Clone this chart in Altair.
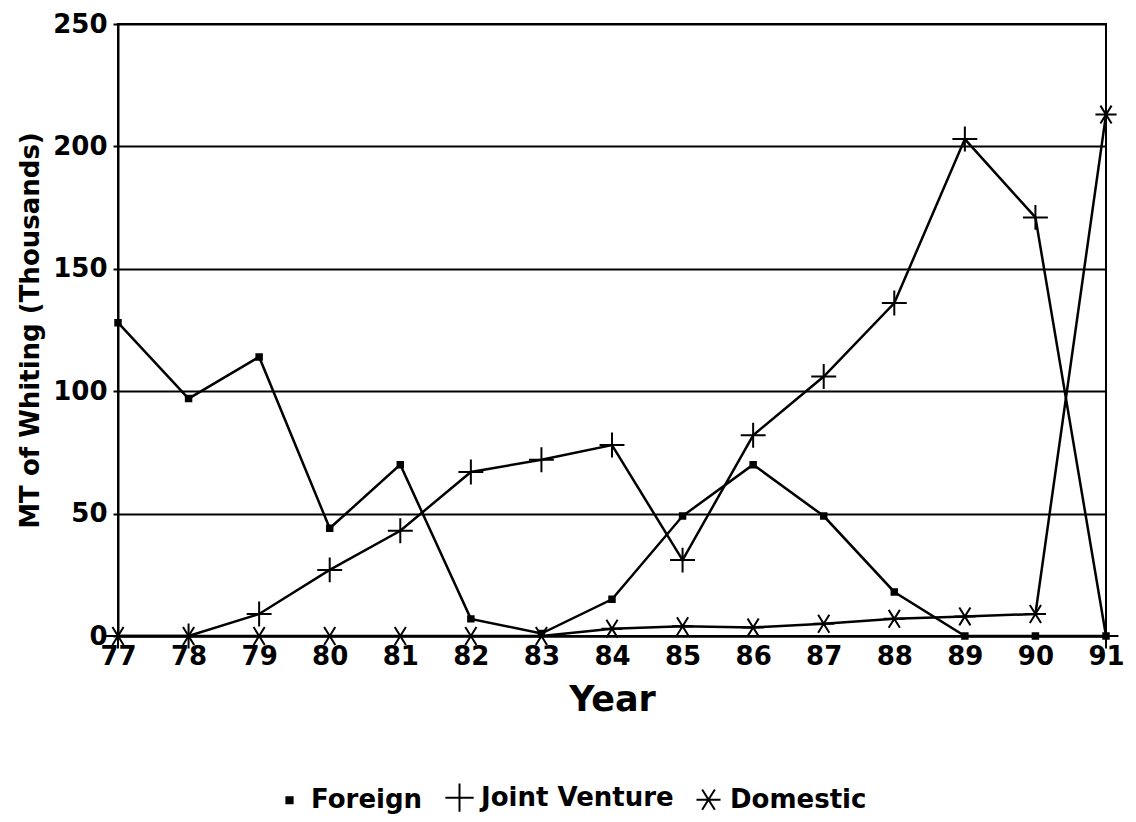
import altair as alt
import pandas as pd

years = [77, 78, 79, 80, 81, 82, 83, 84, 85, 86, 87, 88, 89, 90, 91]
foreign = [128, 97, 114, 44, 70, 7, 1, 15, 49, 70, 49, 18, 0, 0, 0]
joint_venture = [0, 0, 9, 27, 43, 67, 72, 78, 31, 82, 106, 136, 203, 171, 0]
domestic = [0, 0, 0, 0, 0, 0, 0, 3, 4, 3.5, 5, 7, 8, 9, 213]
series_names = ["Foreign", "Joint Venture", "Domestic"]
y_ticks = [0, 50, 100, 150, 200, 250]

rows = []
for name, vals in zip(series_names, [foreign, joint_venture, domestic]):
    for yr, v in zip(years, vals):
        rows.append({"Year": yr, "Value": v, "Series": name})
df = pd.DataFrame(rows)

square = "M-0.22,-0.22L0.22,-0.22L0.22,0.22L-0.22,0.22ZM-0.22,-0.07L0.22,-0.07M-0.22,0.07L0.22,0.07"
plus = "M-1,0L1,0M0,-1L0,1"
aster = "M-0.85,0L0.85,0M-0.45,-0.72L0.45,0.72M-0.45,0.72L0.45,-0.72"

FONT = "DejaVu Sans"

x = alt.X("Year:Q",
          scale=alt.Scale(domain=[77, 91], nice=False, zero=False),
          axis=alt.Axis(values=years, format="d", title="Year", grid=False,
                        ticks=False, labelPadding=7, titlePadding=13,
                        labelFlush=False, labelOverlap=False))
y = alt.Y("Value:Q",
          scale=alt.Scale(domain=[0, 250], nice=False),
          axis=alt.Axis(values=y_ticks, title="MT of Whiting (Thousands)",
                        grid=True, tickSize=5, labelPadding=6, titlePadding=9,
                        labelFlush=False))

lines = alt.Chart(df).mark_line(color="black", strokeWidth=2.5).encode(
    x=x, y=y, detail="Series:N", order="Year:Q")

points = alt.Chart(df).mark_point(filled=False, color="black", strokeWidth=2,
                                  opacity=1, size=620).encode(
    x=x, y=y,
    shape=alt.Shape("Series:N",
                    scale=alt.Scale(domain=series_names, range=[square, plus, aster]),
                    legend=alt.Legend(title=None, orient="none", direction="horizontal",
                                      legendX=156, legendY=758, symbolSize=800,
                                      symbolStrokeWidth=2, symbolStrokeColor="black",
                                      labelFontSize=26, labelFont=FONT,
                                      labelFontWeight="bold", labelColor="black",
                                      labelLimit=0, columnPadding=18, labelOffset=6)))

chart = alt.layer(lines, points).properties(
    width=988, height=612,
    background="white",
    autosize=alt.AutoSizeParams(type="none"),
    padding={"left": 110, "top": 16, "right": 22, "bottom": 180},
).configure_view(
    stroke="black", strokeWidth=2
).configure_axis(
    domainColor="black", domainWidth=2, gridColor="black", gridWidth=2,
    gridOpacity=1, tickColor="black", tickWidth=2,
    labelFont=FONT, labelFontSize=26, labelFontWeight="bold", labelColor="black",
    titleFont=FONT, titleFontWeight="bold", titleColor="black",
).configure_axisX(
    titleFontSize=35
).configure_axisY(
    titleFontSize=26
)

chart.save("out.html", embed_options={"renderer": "svg", "actions": False})
